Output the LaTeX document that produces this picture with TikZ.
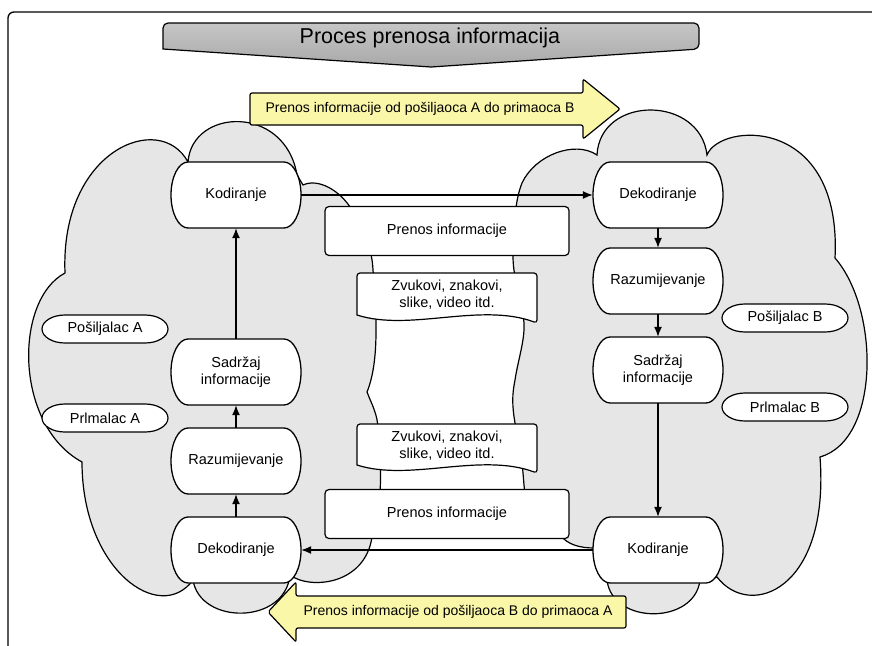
\documentclass[tikz,border=0pt]{standalone}
\usepackage{fontspec}
\setmainfont{Liberation Sans}
\usetikzlibrary{arrows.meta}
\definecolor{cloudgray}{HTML}{E6E6E6}
\definecolor{arrowyel}{HTML}{FAF7A8}
\newcommand\procnode[4]{%
  \path[procline] ({#2+48},{#3-33}) arc[start angle=-90,end angle=90,x radius=17,y radius=33]
    -- ({#2-48},{#3+33}) arc[start angle=90,end angle=270,x radius=17,y radius=33] -- cycle;
  \node[proc] (#1) at (#2,#3) {#4};}
\newcommand\rolenode[4]{%
  \path[roleline] ({#2+40},{#3-14}) arc[start angle=-90,end angle=90,x radius=23,y radius=14]
    -- ({#2-40},{#3+14}) arc[start angle=90,end angle=270,x radius=23,y radius=14] -- cycle;
  \node[role] (#1) at (#2,#3) {#4};}
\begin{document}
\begin{tikzpicture}[x=1pt,y=-1pt,
  procline/.style={draw=black, line width=1.3pt, fill=white},
  roleline/.style={draw=black, line width=1.2pt, fill=white},
  proc/.style={rectangle, draw=none, minimum width=130pt, minimum height=66pt, inner sep=0pt,
    align=center, font=\fontsize{14.5}{17}\selectfont},
  role/.style={rectangle, draw=none, minimum width=126pt, minimum height=28pt,
    inner sep=0pt, font=\fontsize{14.5}{17}\selectfont},
  chan/.style={rectangle, rounded corners=4pt, draw=black, line width=1.2pt, fill=white,
    minimum width=244pt, minimum height=49pt, inner sep=0pt, font=\fontsize{14.5}{17}\selectfont},
  txt/.style={align=center, inner sep=0pt, font=\fontsize{14.5}{17}\selectfont},
  conn/.style={line width=1.3pt, -{Latex[length=10pt,width=8pt]}},
  cloudshape/.style={fill=cloudgray, draw=black, line width=1.2pt},
  bigarrow/.style={fill=arrowyel, draw=black, line width=1.2pt, rounded corners=2pt},
  doc/.style={fill=white, draw=black, line width=1.2pt}
]
\useasboundingbox (0,0) rectangle (872,645);
\fill[white] (0,0) rectangle (872,645);
% frame
\draw[line width=1.3pt, rounded corners=6pt] (8,12) rectangle (900,700);

% left cloud
\path[cloudshape] (188,162) .. controls (192,108) and (285,104) .. (297,175)
  -- (303,185)
  .. controls (318,178) and (340,190) .. (352,210)
  .. controls (366,235) and (372,250) .. (373,270)
  .. controls (376,310) and (380,360) .. (367,392)
  .. controls (372,405) and (378,415) .. (378,430)
  .. controls (382,470) and (382,510) .. (372,537)
  .. controls (365,585) and (310,590) .. (290,575)
  .. controls (285,625) and (200,625) .. (193,580)
  .. controls (160,625) and (82,570) .. (82,462)
  .. controls (14,425) and (14,300) .. (65,273)
  .. controls (60,150) and (160,110) .. (188,162) -- cycle;

% right cloud
\path[cloudshape] (597,155) .. controls (600,95) and (700,95) .. (707,155)
  .. controls (720,122) and (842,115) .. (835,258)
  .. controls (880,310) and (880,440) .. (820,457)
  .. controls (830,590) and (750,620) .. (717,577)
  -- (700,580)
  .. controls (695,625) and (612,625) .. (607,580)
  -- (595,548)
  .. controls (580,548) and (568,545) .. (560,535)
  .. controls (540,520) and (525,505) .. (524,485)
  .. controls (522,460) and (520,440) .. (515,423)
  .. controls (512,405) and (512,395) .. (515,380)
  .. controls (518,360) and (525,340) .. (524,323)
  .. controls (522,300) and (513,280) .. (513,256)
  .. controls (513,230) and (515,200) .. (522,183)
  .. controls (535,155) and (575,140) .. (597,155) -- cycle;

% title banner
\path[draw=black, line width=1.2pt, top color=gray!45, bottom color=gray!68]
  (163,49) [rounded corners=5pt] -- (163,23) -- (699,23) -- (699,49) [sharp corners] -- (431,67) -- cycle;
\node[font=\fontsize{21.5}{25}\selectfont, inner sep=0pt] (title) at (430,38) {Proces prenosa informacija};

% big arrows
\draw[bigarrow] (250,93) -- (583,93) -- (583,79) -- (620,109) -- (583,139) -- (583,125) -- (250,125) -- cycle;
\node[font=\fontsize{14}{16}\selectfont, inner sep=0pt] (arrAB) at (420,109) {Prenos informacije od pošiljaoca A do primaoca B};
\draw[bigarrow] (626,596) -- (296,596) -- (296,582) -- (268,612) -- (296,642) -- (296,628) -- (626,628) -- cycle;
\node[font=\fontsize{14}{16}\selectfont, inner sep=0pt] (arrBA) at (458,612) {Prenos informacije od pošiljaoca B do primaoca A};

% process nodes
\procnode{kodA}{236}{195}{Kodiranje}
\procnode{sadA}{236}{372}{Sadržaj\\informacije}
\procnode{razA}{236}{461}{Razumijevanje}
\procnode{dekA}{236}{550}{Dekodiranje}
\procnode{dekB}{658}{195}{Dekodiranje}
\procnode{razB}{658}{281}{Razumijevanje}
\procnode{sadB}{658}{370}{Sadržaj\\informacije}
\procnode{kodB}{658}{550}{Kodiranje}

\rolenode{posA}{105}{329}{Pošiljalac A}
\rolenode{priA}{105}{418}{Prlmalac A}
\rolenode{posB}{785}{318}{Pošiljalac B}
\rolenode{priB}{785}{407}{Prlmalac B}

% channel boxes
\node[chan] (pren1) at (447,231) {Prenos informacije};
\node[chan] (pren2) at (447,514) {Prenos informacije};
\draw[doc] (357,315) [rounded corners=3pt] -- (357,273) -- (537,273) -- (537,323) [sharp corners]
  .. controls (480,302) and (410,332) .. (357,315) -- cycle;
\node[txt] (zv1) at (447,295) {Zvukovi, znakovi,\\slike, video itd.};
\draw[doc] (357,465) [rounded corners=3pt] -- (357,424) -- (537,424) -- (537,473) [sharp corners]
  .. controls (480,452) and (410,482) .. (357,465) -- cycle;
\node[txt] (zv2) at (447,446) {Zvukovi, znakovi,\\slike, video itd.};

% connectors
\draw[conn] (kodA) -- (dekB);
\draw[conn] (kodB) -- (dekA);
\draw[conn] (sadA) -- (kodA);
\draw[conn] (razA) -- (sadA);
\draw[conn] (dekA) -- (razA);
\draw[conn] (dekB) -- (razB);
\draw[conn] (razB) -- (sadB);
\draw[conn] (sadB) -- (kodB);
\end{tikzpicture}
\end{document}
